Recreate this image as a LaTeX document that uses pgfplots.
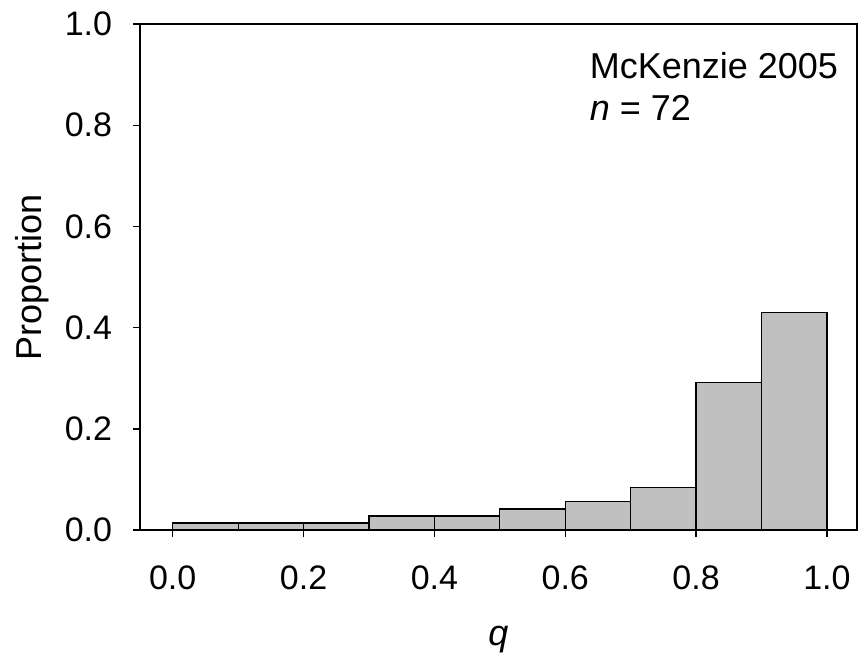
\documentclass[border=0pt]{standalone}
\usepackage{fontspec}
\setmainfont{Liberation Sans}
\usepackage{pgfplots}
\pgfplotsset{compat=1.18}
\definecolor{barfill}{RGB}{192,192,192}
\begin{document}
\fontsize{17}{20}\selectfont
\begin{tikzpicture}
\useasboundingbox (-70pt,-65.5pt) rectangle (360pt,265pt);
\begin{axis}[
  at={(0pt,0pt)}, anchor=south west,
  scale only axis,
  width=358.5pt, height=253pt,
  xmin=-0.05, xmax=1.046,
  ymin=0, ymax=1,
  axis line style={line width=0.7pt},
  every tick/.style={black, line width=0.7pt},
  tick align=outside,
  major tick length=3.5pt,
  xtick pos=bottom, ytick pos=left,
  xtick={0,0.2,0.4,0.6,0.8,1.0},
  ytick={0,0.2,0.4,0.6,0.8,1.0},
  /pgf/number format/assume math mode=true,
  tick label style={font=\fontsize{17}{20}\selectfont},
  xticklabel style={/pgf/number format/.cd, fixed, fixed zerofill, precision=1, /tikz/.cd, yshift=-8.4pt},
  yticklabel style={/pgf/number format/.cd, fixed, fixed zerofill, precision=1, /tikz/.cd, xshift=-4.6pt},
  xlabel={\textit{q}},
  ylabel={Proportion},
  label style={font=\fontsize{18}{21}\selectfont},
  xlabel style={at={(axis description cs:0.5,0)}, anchor=center, yshift=-55pt},
  ylabel style={at={(axis description cs:0,0.5)}, anchor=center, yshift=54pt},
  clip=false,
]
\addplot[ybar interval, fill=barfill, draw=black, line width=0.6pt] coordinates {
  (0.0,0.0139) (0.1,0.0139) (0.2,0.0139) (0.3,0.0278) (0.4,0.0278)
  (0.5,0.0417) (0.6,0.0556) (0.7,0.0833) (0.8,0.2917) (0.9,0.4306) (1.0,0.4306)
};
\node[anchor=base west, inner sep=0pt, font=\fontsize{18}{21}\selectfont] at (axis cs:0.637,0.892) {McKenzie 2005};
\node[anchor=base west, inner sep=0pt, font=\fontsize{18}{21}\selectfont] at (axis cs:0.637,0.809) {\textit{n} = 72};
\end{axis}
\end{tikzpicture}
\end{document}
